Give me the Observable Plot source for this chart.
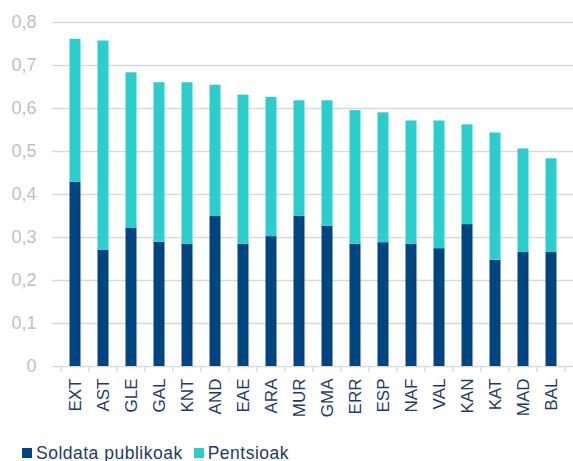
<!DOCTYPE html>
<html>
<head>
<meta charset="utf-8">
<script src="https://cdn.jsdelivr.net/npm/d3@7"></script>
<script src="https://cdn.jsdelivr.net/npm/@observablehq/plot@0.6"></script>
<style>
  html, body { margin: 0; padding: 0; background: #fff; }
  #chart { width: 573px; }
  .legend { display: flex; align-items: center; font-family: "Liberation Sans", Arial, sans-serif; font-size: 17.5px; letter-spacing: 0.5px; color: #1f3a68; padding-left: 22px; padding-top: 5px; height: 26px; }
  .legend .item { display: flex; align-items: center; margin-right: 11px; }
  .legend .sw { width: 10px; height: 10px; margin-right: 4px; }
</style>
</head>
<body>
<div id="chart"></div>
<script>
const categories = ["EXT","AST","GLE","GAL","KNT","AND","EAE","ARA","MUR","GMA","ERR","ESP","NAF","VAL","KAN","KAT","MAD","BAL"];
const totals =     [0.761,0.757,0.683,0.660,0.660,0.654,0.631,0.626,0.618,0.618,0.595,0.590,0.571,0.571,0.562,0.543,0.506,0.483];
const wages =      [0.428,0.270,0.321,0.289,0.284,0.349,0.284,0.302,0.349,0.326,0.284,0.288,0.284,0.274,0.330,0.247,0.265,0.265];
const seriesNames = ["Soldata publikoak", "Pentsioak"];
const seriesColors = ["#004481", "#2dcccd"];
const yTicks = [0, 0.1, 0.2, 0.3, 0.4, 0.5, 0.6, 0.7, 0.8];

const rows = [];
categories.forEach((c, i) => {
  rows.push({cat: c, series: seriesNames[0], value: wages[i]});
  rows.push({cat: c, series: seriesNames[1], value: +(totals[i] - wages[i]).toFixed(3)});
});

const width = 573, height = 435, marginLeft = 52, marginRight = 0;
const bw = (width - marginLeft - marginRight) / categories.length;
const fmt = d => d === 0 ? "0" : d.toFixed(1).replace(".", ",");

const chart = Plot.plot({
  width, height,
  marginLeft, marginRight,
  marginTop: 22,
  marginBottom: 69,
  style: {fontFamily: "'Liberation Sans', Arial, sans-serif", background: "#fff"},
  x: {domain: categories, padding: 0, label: null},
  y: {domain: [0, 0.8], label: null, axis: null},
  color: {domain: seriesNames, range: seriesColors},
  marks: [
    Plot.ruleY(yTicks, {stroke: "#d9d9d9", strokeWidth: 1.4}),
    Plot.ruleX(categories, {x: d => d, dx: -bw / 2, y1: 0, y2: 0, insetBottom: -6, stroke: "#d9d9d9", strokeWidth: 1.4}),
    Plot.ruleX([categories[categories.length - 1]], {x: d => d, dx: bw / 2 - 1, y1: 0, y2: 0, insetBottom: -6, stroke: "#d9d9d9", strokeWidth: 1.4}),
    Plot.barY(rows, Plot.stackY({x: "cat", y: "value", fill: "series", order: seriesNames, insetLeft: 8.5, insetRight: 8.5})),
    Plot.text(yTicks, {y: d => d, text: fmt, frameAnchor: "left", textAnchor: "end", dx: -16, fontSize: 18, fill: "#bfbfbf"}),
    Plot.axisX({tickSize: 0, tickPadding: 12, tickRotate: -90, fontSize: 17, color: "#1f3a68"})
  ]
});
document.getElementById("chart").appendChild(chart);

const legend = document.createElement("div");
legend.className = "legend";
seriesNames.forEach((n, i) => {
  const it = document.createElement("div");
  it.className = "item";
  const sw = document.createElement("div");
  sw.className = "sw";
  sw.style.background = seriesColors[i];
  const t = document.createElement("span");
  t.textContent = n;
  it.appendChild(sw); it.appendChild(t);
  legend.appendChild(it);
});
document.getElementById("chart").appendChild(legend);
</script>
</body>
</html>
